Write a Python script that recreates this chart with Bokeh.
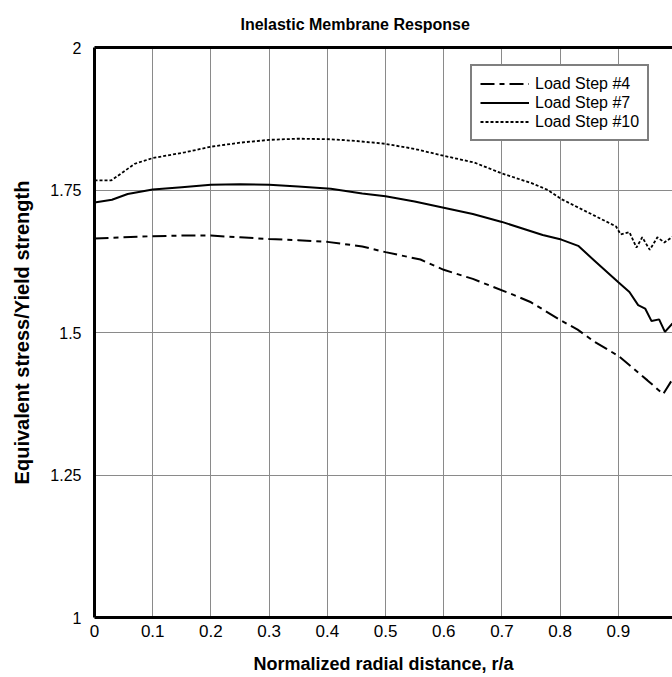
from bokeh.plotting import figure
from bokeh.models import (Range1d, FixedTicker, LinearAxis, Legend, LegendItem)
from bokeh.embed import file_html
from bokeh.resources import INLINE

# ---- data ----
x_step4 = [0.0, 0.05, 0.1, 0.15, 0.2, 0.25, 0.3, 0.35, 0.4, 0.46, 0.5, 0.56,
           0.6, 0.65, 0.68, 0.72, 0.75, 0.8, 0.83, 0.86, 0.9, 0.95, 0.977, 0.993]
y_step4 = [1.665, 1.667, 1.669, 1.670, 1.670, 1.667, 1.664, 1.662, 1.659, 1.651,
           1.641, 1.628, 1.610, 1.594, 1.582, 1.566, 1.553, 1.522, 1.505, 1.483,
           1.459, 1.416, 1.392, 1.418]

x_step7 = [0.0, 0.03, 0.057, 0.1, 0.15, 0.2, 0.25, 0.3, 0.35, 0.406, 0.46, 0.5,
           0.55, 0.6, 0.65, 0.7, 0.77, 0.802, 0.831, 0.859, 0.9, 0.919, 0.934,
           0.946, 0.957, 0.97, 0.98, 0.993]
y_step7 = [1.728, 1.733, 1.743, 1.751, 1.755, 1.759, 1.760, 1.759, 1.756, 1.752,
           1.744, 1.739, 1.730, 1.719, 1.708, 1.694, 1.671, 1.663, 1.652, 1.626,
           1.588, 1.571, 1.548, 1.542, 1.520, 1.523, 1.501, 1.516]

x_step10 = [0.0, 0.029, 0.05, 0.069, 0.1, 0.155, 0.2, 0.25, 0.3, 0.35, 0.406,
            0.45, 0.5, 0.55, 0.6, 0.653, 0.7, 0.751, 0.779, 0.802, 0.859, 0.896,
            0.904, 0.919, 0.931, 0.941, 0.954, 0.967, 0.979, 0.993]
y_step10 = [1.767, 1.767, 1.782, 1.796, 1.806, 1.816, 1.826, 1.833, 1.838, 1.840,
            1.839, 1.836, 1.831, 1.822, 1.810, 1.798, 1.779, 1.762, 1.750, 1.734,
            1.705, 1.686, 1.672, 1.676, 1.649, 1.667, 1.645, 1.667, 1.658, 1.668]

series_names = ["Load Step #4", "Load Step #7", "Load Step #10"]
title_text = "Inelastic Membrane Response"

x_ticks = [0, 0.1, 0.2, 0.3, 0.4, 0.5, 0.6, 0.7, 0.8, 0.9]
x_tick_labels = ["0", "0.1", "0.2", "0.3", "0.4", "0.5", "0.6", "0.7", "0.8", "0.9"]
y_ticks = [1, 1.25, 1.5, 1.75, 2]
y_tick_labels = ["1", "1.25", "1.5", "1.75", "2"]

FONT = "Liberation Sans"

p = figure(width=672, height=677, output_backend="svg", toolbar_location=None,
           x_range=Range1d(0, 0.993), y_range=Range1d(1, 2),
           x_axis_label="Normalized radial distance, r/a",
           y_axis_label="Equivalent stress/Yield strength",
           min_border_left=94, min_border_right=0, min_border_top=47,
           min_border_bottom=60, background_fill_color="white",
           border_fill_color="white")
p.outline_line_color = None

# title
p.title.text = title_text
p.title.text_font = FONT
p.title.text_font_size = "16px"
p.title.text_font_style = "bold"
p.title.text_color = "black"
p.title.align = "left"
p.title.offset = 146
p.title.vertical_align = "top"
p.title.standoff = 26

# axes
for ax in (p.xaxis[0], p.yaxis[0]):
    ax.axis_line_width = 3
    ax.axis_line_color = "black"
    ax.major_tick_line_color = None
    ax.minor_tick_line_color = None
    ax.major_label_text_font = FONT
    ax.major_label_text_color = "black"
    ax.axis_label_text_font = FONT
    ax.axis_label_text_font_style = "bold"
    ax.axis_label_text_color = "black"

p.xaxis.ticker = FixedTicker(ticks=x_ticks)
p.xaxis.major_label_overrides = dict(zip(x_ticks, x_tick_labels))
p.yaxis.ticker = FixedTicker(ticks=y_ticks)
p.yaxis.major_label_overrides = dict(zip(y_ticks, y_tick_labels))
p.xaxis.major_label_text_font_size = "17px"
p.yaxis.major_label_text_font_size = "16px"
p.xaxis.major_label_standoff = 1
p.yaxis.major_label_standoff = 7
p.xaxis.axis_label_text_font_size = "18px"
p.yaxis.axis_label_text_font_size = "20px"
p.xaxis.axis_label_standoff = 14
p.yaxis.axis_label_standoff = 14

# top border (no ticks)
top_axis = LinearAxis(ticker=FixedTicker(ticks=[]), axis_line_width=3,
                      axis_line_color="black", major_tick_line_color=None,
                      minor_tick_line_color=None, major_label_text_alpha=0)
p.add_layout(top_axis, "above")

# grid
p.xgrid.ticker = FixedTicker(ticks=x_ticks[1:])
p.ygrid.ticker = FixedTicker(ticks=y_ticks[1:-1])
for g in (p.xgrid[0], p.ygrid[0]):
    g.grid_line_color = "#8a8a8a"
    g.grid_line_width = 1

# lines
r4 = p.line(x_step4, y_step4, line_color="black", line_width=2,
            line_dash="14 5 5 5")
r7 = p.line(x_step7, y_step7, line_color="black", line_width=2)
r10 = p.line(x_step10, y_step10, line_color="black", line_width=1.8,
             line_dash="3 2")

legend = Legend(items=[LegendItem(label=series_names[0], renderers=[r4]),
                       LegendItem(label=series_names[1], renderers=[r7]),
                       LegendItem(label=series_names[2], renderers=[r10])],
                location=(376, 476), orientation="vertical",
                glyph_width=49, glyph_height=19, label_height=19,
                label_standoff=6, spacing=0, padding=8, margin=0,
                label_text_font=FONT, label_text_font_size="16px",
                label_text_color="black",
                border_line_color="black", border_line_width=2.5,
                background_fill_color="white", background_fill_alpha=1)
p.add_layout(legend, "center")

open("out.html", "w").write(file_html(p, INLINE))
